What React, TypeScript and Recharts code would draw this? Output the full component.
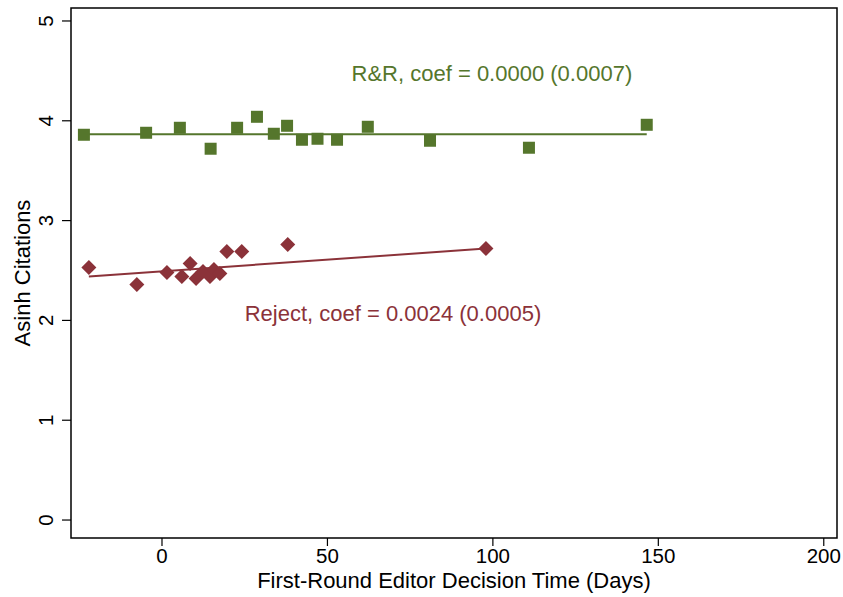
import {
  ComposedChart,
  ReferenceArea,
  ReferenceDot,
  ReferenceLine,
  Scatter,
  XAxis,
  YAxis,
} from 'recharts';

// binned means of asinh citations by first-round decision time
const rrDays = [-23.6, -4.8, 5.4, 14.7, 22.7, 28.7, 33.8, 37.8, 42.3, 47.0, 52.9, 62.2, 81.0, 110.9, 146.5];
const rrCites = [3.86, 3.88, 3.93, 3.72, 3.93, 4.04, 3.87, 3.95, 3.81, 3.82, 3.81, 3.94, 3.8, 3.73, 3.96];

const rejDays = [-22.1, -7.6, 1.5, 6.0, 8.5, 10.3, 12.4, 14.5, 15.7, 17.5, 19.6, 24.1, 38.0, 97.9];
const rejCites = [2.53, 2.36, 2.48, 2.44, 2.57, 2.42, 2.49, 2.44, 2.51, 2.47, 2.69, 2.69, 2.76, 2.72];

// fitted lines, endpoints at the first and last bins
const rrFitDays = [-23.6, 146.5];
const rrFitCites = [3.865, 3.865];
const rejFitDays = [-22.1, 97.9];
const rejFitCites = [2.44, 2.72];

const xTicks = [0, 50, 100, 150, 200];
const yTicks = [0, 1, 2, 3, 4, 5];

const rrLabel = 'R&R, coef = 0.0000 (0.0007)';
const rejLabel = 'Reject, coef = 0.0024 (0.0005)';

const GREEN = '#55762c';
const RED = '#8b3239';
const FONT = '"Liberation Sans", Arial, sans-serif';

const rrData = rrDays.map((x, i) => ({ x, y: rrCites[i] }));
const rejData = rejDays.map((x, i) => ({ x, y: rejCites[i] }));

const Square = (props: any) => {
  const { cx, cy } = props;
  return <rect x={cx - 6} y={cy - 6} width={12} height={12} fill={GREEN} />;
};

const Diamond = (props: any) => {
  const { cx, cy } = props;
  const r = 7.5;
  return (
    <polygon
      points={`${cx},${cy - r} ${cx + r},${cy} ${cx},${cy + r} ${cx - r},${cy}`}
      fill={RED}
    />
  );
};

const YTick = (props: any) => {
  const { x, y, payload } = props;
  const cx = x - 16;
  return (
    <text
      x={cx}
      y={y}
      transform={`rotate(-90, ${cx}, ${y})`}
      textAnchor="middle"
      dominantBaseline="central"
      fontSize={20.5}
      fontFamily={FONT}
      fill="#000"
    >
      {payload.value}
    </text>
  );
};

const YTitle = (props: any) => {
  const { viewBox } = props;
  const cx = 22;
  const cy = viewBox.y + viewBox.height / 2;
  return (
    <text
      x={cx}
      y={cy}
      transform={`rotate(-90, ${cx}, ${cy})`}
      textAnchor="middle"
      dominantBaseline="central"
      fontSize={22}
      fontFamily={FONT}
      fill="#000"
    >
      Asinh Citations
    </text>
  );
};

export default function App() {
  return (
    <div style={{ position: 'absolute', left: 0, top: 0, background: '#fff' }}>
      <ComposedChart width={843} height={597} margin={{ top: 8, right: 6, bottom: 0, left: 0 }}>
        <XAxis
          type="number"
          dataKey="x"
          domain={[-27.5, 204]}
          ticks={xTicks}
          allowDataOverflow
          height={59}
          axisLine={false}
          tickSize={8}
          tickMargin={2}
          tickLine={{ stroke: '#000', strokeWidth: 1.2 }}
          tick={{ fill: '#000', fontSize: 20.5, fontFamily: FONT }}
          label={{
            value: 'First-Round Editor Decision Time (Days)',
            position: 'insideBottom',
            offset: 9,
            fill: '#000',
            fontSize: 22,
            fontFamily: FONT,
          }}
        />
        <YAxis
          type="number"
          dataKey="y"
          domain={[-0.18, 5.13]}
          ticks={yTicks}
          allowDataOverflow
          width={71}
          axisLine={false}
          tickSize={9}
          tickMargin={0}
          tickLine={{ stroke: '#000', strokeWidth: 1.2 }}
          tick={<YTick />}
          label={<YTitle />}
        />
        <ReferenceArea
          x1={-27.5}
          x2={204}
          y1={-0.18}
          y2={5.13}
          fill="none"
          fillOpacity={0}
          stroke="#000"
          strokeWidth={1.5}
          ifOverflow="visible"
        />
        <ReferenceLine
          segment={[
            { x: rrFitDays[0], y: rrFitCites[0] },
            { x: rrFitDays[1], y: rrFitCites[1] },
          ]}
          stroke={GREEN}
          strokeWidth={2}
        />
        <ReferenceLine
          segment={[
            { x: rejFitDays[0], y: rejFitCites[0] },
            { x: rejFitDays[1], y: rejFitCites[1] },
          ]}
          stroke={RED}
          strokeWidth={2}
        />
        <Scatter data={rrData} shape={<Square />} isAnimationActive={false} />
        <Scatter data={rejData} shape={<Diamond />} isAnimationActive={false} />
        <ReferenceDot
          x={99.7}
          y={4.48}
          r={0}
          fill="none"
          stroke="none"
          label={{ value: rrLabel, position: 'center', fill: GREEN, fontSize: 22, fontFamily: FONT }}
        />
        <ReferenceDot
          x={69.8}
          y={2.07}
          r={0}
          fill="none"
          stroke="none"
          label={{ value: rejLabel, position: 'center', fill: RED, fontSize: 22, fontFamily: FONT }}
        />
      </ComposedChart>
    </div>
  );
}
